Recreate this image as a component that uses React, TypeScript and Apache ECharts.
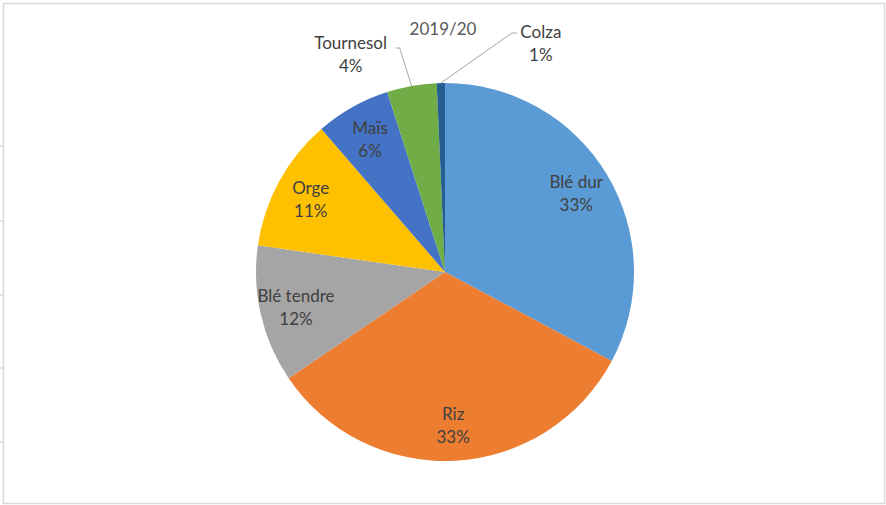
import React, { useEffect, useRef } from "react";
import * as echarts from "echarts";

const title = "2019/20";
const categories = ["Blé dur", "Riz", "Blé tendre", "Orge", "Maïs", "Tournesol", "Colza"];
const values = [32.8, 32.7, 11.75, 11.4, 6.4, 4.25, 0.7];
const colors = ["#5B9BD5", "#ED7D31", "#A5A5A5", "#FFC000", "#4472C4", "#70AD47", "#255E91"];
const outsideLabels = ["Tournesol", "Colza"];
const leftTicks = [146, 221, 295, 368, 442];

export default function App() {
  const ref = useRef<HTMLDivElement>(null);
  useEffect(() => {
    document.body.style.margin = "0";
    const chart = echarts.init(ref.current!, undefined, { renderer: "svg" });
    const font = "Lato, 'Noto Sans', sans-serif";
    const center = [445, 272];
    const R = 189;
    const mainData = categories.map((c, i) => {
      const outside = outsideLabels.includes(c);
      return {
        name: c,
        value: values[i],
        itemStyle: { color: colors[i] },
        label: { show: outside },
        labelLine: { show: outside },
      };
    });
    const ghostData = categories.map((c, i) => ({
      name: c,
      value: values[i],
      label: { show: !outsideLabels.includes(c) },
    }));
    const labelStyle = {
      formatter: "{b}\n{d}%",
      fontFamily: font,
      fontSize: 17,
      lineHeight: 23,
      color: "#404040",
      align: "center" as const,
    };
    chart.setOption({
      animation: false,
      title: {
        text: title,
        left: "center",
        top: 15,
        textStyle: { fontFamily: font, fontSize: 17, fontWeight: "normal", color: "#595959" },
      },
      graphic: [
        {
          type: "rect",
          shape: { x: 3.5, y: 3.5, width: 881, height: 500 },
          style: { fill: "none", stroke: "#D9D9D9", lineWidth: 1.5 },
          silent: true,
        },
        ...leftTicks.map((y) => ({
          type: "line",
          shape: { x1: 0, y1: y, x2: 3, y2: y },
          style: { stroke: "#D9D9D9", lineWidth: 1.5 },
          silent: true,
        })),
      ],
      series: [
        {
          type: "pie",
          center,
          radius: [0, R],
          startAngle: 90,
          clockwise: true,
          percentPrecision: 0,
          avoidLabelOverlap: false,
          emphasis: { disabled: true },
          silent: true,
          label: { ...labelStyle, position: "outside" },
          labelLine: { show: true, length: 38, length2: 5, lineStyle: { color: "#A6A6A6", width: 1 } },
          labelLayout: (params: any) => {
            const pts = params.labelLinePoints;
            if (!pts) return {};
            const p0 = pts[0];
            if (params.dataIndex === categories.indexOf("Tournesol")) {
              return {
                x: p0[0] - 61,
                y: p0[1] - 32,
                align: "center",
                verticalAlign: "middle",
                labelLinePoints: [p0, [p0[0] - 12, p0[1] - 38], [p0[0] - 16, p0[1] - 38]],
              };
            }
            if (params.dataIndex === categories.indexOf("Colza")) {
              return {
                x: p0[0] + 100,
                y: p0[1] - 40,
                align: "center",
                verticalAlign: "middle",
                labelLinePoints: [p0, [p0[0] + 71, p0[1] - 50], [p0[0] + 76, p0[1] - 50]],
              };
            }
            return {};
          },
          data: mainData,
        },
        {
          type: "pie",
          center,
          radius: [111, R],
          startAngle: 90,
          clockwise: true,
          percentPrecision: 0,
          silent: true,
          emphasis: { disabled: true },
          itemStyle: { color: "rgba(0,0,0,0)", borderWidth: 0 },
          label: { ...labelStyle, position: "inside" },
          labelLine: { show: false },
          data: ghostData,
        },
      ],
    });
    return () => chart.dispose();
  }, []);
  return <div ref={ref} style={{ width: 886, height: 505 }} />;
}
